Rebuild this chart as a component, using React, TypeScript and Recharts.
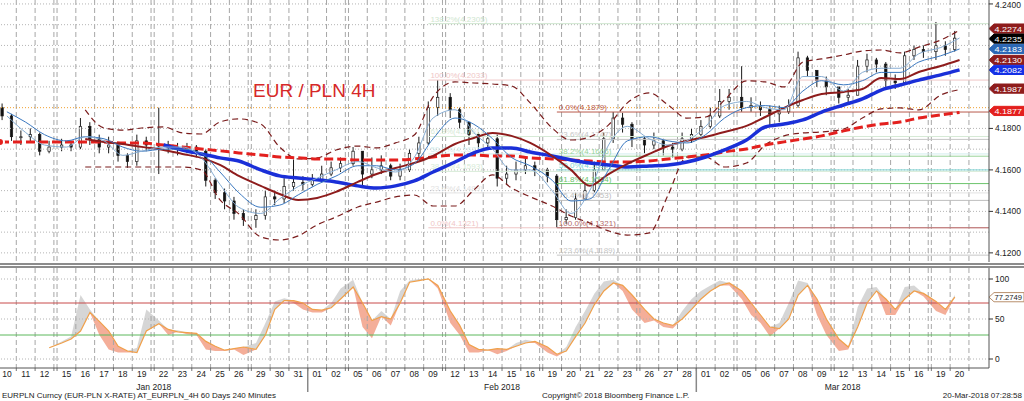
import React from "react";
import { ComposedChart, Line, Area, Bar, XAxis, YAxis, ReferenceLine } from "recharts";

const FONT = '"Liberation Sans", Arial, sans-serif';

// trading days shown on the x axis (MM-DD, 2018)
const DATES = [
  "01-10", "01-11", "01-12", "01-15", "01-16", "01-17", "01-18", "01-19", "01-22", "01-23",
  "01-24", "01-25", "01-26", "01-29", "01-30", "01-31", "02-01", "02-02", "02-05", "02-06",
  "02-07", "02-08", "02-09", "02-12", "02-13", "02-14", "02-15", "02-16", "02-19", "02-20",
  "02-21", "02-22", "02-23", "02-26", "02-27", "02-28", "03-01", "03-02", "03-05", "03-06",
  "03-07", "03-08", "03-09", "03-12", "03-13", "03-14", "03-15", "03-16", "03-19", "03-20",
];
const MONTHS = ["Jan 2018", "Feb 2018", "Mar 2018"];

// candles, two per day (half-day bars), last day has one
const FIRST_OPEN = 4.19;
const CLOSE = [
  4.186, 4.176, 4.176, 4.177, 4.169, 4.171, 4.172, 4.171, 4.181, 4.175,
  4.171, 4.172, 4.167, 4.164, 4.174, 4.172, 4.172, 4.171, 4.17, 4.171,
  4.169, 4.155, 4.149, 4.145, 4.139, 4.136, 4.138, 4.147, 4.146, 4.152,
  4.154, 4.153, 4.155, 4.158, 4.161, 4.163, 4.169, 4.158, 4.16, 4.162,
  4.157, 4.16, 4.168, 4.173, 4.19, 4.195, 4.189, 4.183, 4.177, 4.173,
  4.175, 4.156, 4.158, 4.16, 4.162, 4.16, 4.157, 4.136, 4.137, 4.146,
  4.15, 4.16, 4.175, 4.185, 4.182, 4.175, 4.172, 4.174, 4.171, 4.17,
  4.175, 4.177, 4.181, 4.186, 4.193, 4.195, 4.19, 4.191, 4.189, 4.187,
  4.188, 4.191, 4.214, 4.208, 4.203, 4.2, 4.195, 4.196, 4.21, 4.213,
  4.211, 4.203, 4.202, 4.215, 4.218, 4.217, 4.22, 4.218, 4.2235,
];
const HIGH = [
  4.192, 4.187, 4.179, 4.18, 4.178, 4.174, 4.175, 4.174, 4.185, 4.183,
  4.177, 4.176, 4.172, 4.168, 4.177, 4.176, 4.19, 4.174, 4.173, 4.173,
  4.172, 4.17, 4.156, 4.151, 4.147, 4.141, 4.141, 4.15, 4.15, 4.156,
  4.165, 4.157, 4.158, 4.162, 4.164, 4.166, 4.171, 4.169, 4.166, 4.167,
  4.163, 4.163, 4.17, 4.176, 4.193, 4.2033, 4.197, 4.19, 4.183, 4.178,
  4.178, 4.177, 4.162, 4.164, 4.166, 4.164, 4.161, 4.158, 4.141, 4.149,
  4.154, 4.164, 4.178, 4.1879, 4.1875, 4.183, 4.176, 4.178, 4.175, 4.173,
  4.178, 4.18, 4.184, 4.19, 4.199, 4.199, 4.21, 4.195, 4.193, 4.191,
  4.191, 4.194, 4.217, 4.215, 4.208, 4.205, 4.2, 4.199, 4.213, 4.216,
  4.214, 4.212, 4.206, 4.217, 4.22, 4.22, 4.2313, 4.222, 4.227,
];
const LOW = [
  4.184, 4.174, 4.172, 4.173, 4.167, 4.168, 4.169, 4.169, 4.17, 4.172,
  4.168, 4.168, 4.164, 4.161, 4.162, 4.169, 4.158, 4.168, 4.167, 4.168,
  4.166, 4.152, 4.146, 4.141, 4.136, 4.133, 4.1321, 4.136, 4.143, 4.144,
  4.15, 4.15, 4.152, 4.154, 4.157, 4.159, 4.162, 4.152, 4.156, 4.158,
  4.155, 4.155, 4.159, 4.166, 4.172, 4.186, 4.185, 4.18, 4.172, 4.17,
  4.17, 4.152, 4.153, 4.155, 4.158, 4.157, 4.154, 4.1321, 4.134, 4.136,
  4.145, 4.149, 4.16, 4.173, 4.178, 4.171, 4.168, 4.17, 4.167, 4.166,
  4.169, 4.173, 4.176, 4.18, 4.185, 4.189, 4.188, 4.188, 4.186, 4.181,
  4.183, 4.187, 4.19, 4.205, 4.2, 4.196, 4.192, 4.192, 4.196, 4.207,
  4.207, 4.2, 4.199, 4.201, 4.213, 4.214, 4.213, 4.215, 4.217,
];

// daily studies
const FAST_MA = [
  4.186, 4.178, 4.172, 4.171, 4.176, 4.174, 4.167, 4.169, 4.171, 4.171,
  4.166, 4.153, 4.142, 4.139, 4.146, 4.152, 4.156, 4.16, 4.164, 4.161,
  4.159, 4.166, 4.185, 4.189, 4.178, 4.17, 4.16, 4.16, 4.15, 4.139,
  4.15, 4.172, 4.181, 4.175, 4.172, 4.174, 4.181, 4.191, 4.193, 4.19,
  4.189, 4.205, 4.205, 4.198, 4.207, 4.209, 4.209, 4.216, 4.219, 4.2236,
];
const SLOW_MA = [
  4.188, 4.183, 4.177, 4.174, 4.176, 4.175, 4.171, 4.169, 4.17, 4.17,
  4.168, 4.159, 4.149, 4.142, 4.143, 4.148, 4.153, 4.157, 4.162, 4.162,
  4.16, 4.163, 4.175, 4.185, 4.182, 4.175, 4.166, 4.162, 4.155, 4.145,
  4.146, 4.16, 4.174, 4.176, 4.174, 4.173, 4.177, 4.185, 4.19, 4.191,
  4.19, 4.198, 4.203, 4.201, 4.203, 4.207, 4.207, 4.212, 4.215, 4.2183,
];
const MID_MA = [
  null, null, null, null, 4.1749, 4.1735, 4.1725, 4.1711, 4.1696, 4.1677,
  4.1658, 4.1624, 4.1571, 4.1523, 4.1484, 4.1455, 4.1465, 4.1494, 4.1542, 4.158,
  4.1609, 4.1633, 4.1667, 4.1725, 4.1754, 4.1778, 4.1764, 4.173, 4.1667, 4.16,
  4.1523, 4.158, 4.1629, 4.1677, 4.1715, 4.174, 4.1759, 4.1783, 4.1812, 4.1855,
  4.1899, 4.1937, 4.1966, 4.1976, 4.199, 4.2043, 4.2038, 4.2072, 4.2101, 4.213,
];
const LONG_MA = [
  null, null, null, null, null, null, null, null, 4.172, 4.1696,
  4.1677, 4.1658, 4.1643, 4.16, 4.1571, 4.1561, 4.1552, 4.1542, 4.1523, 4.1513,
  4.1523, 4.1547, 4.159, 4.1638, 4.1682, 4.1706, 4.1706, 4.1686, 4.1667, 4.1648,
  4.1633, 4.1624, 4.1614, 4.1619, 4.1624, 4.1638, 4.1662, 4.1696, 4.1744, 4.1807,
  4.1821, 4.1841, 4.1879, 4.1913, 4.1942, 4.1985, 4.2009, 4.2033, 4.2058, 4.2082,
];
const SLOWEST_MA = [
  4.1735, 4.1735, 4.1735, 4.1735, 4.1735, 4.1735, 4.173, 4.173, 4.172, 4.1711,
  4.1701, 4.1692, 4.1682, 4.1672, 4.1662, 4.1658, 4.1653, 4.1653, 4.1648, 4.1648,
  4.1648, 4.1653, 4.1662, 4.1672, 4.1672, 4.1667, 4.1667, 4.1658, 4.1653, 4.1648,
  4.1643, 4.1638, 4.1638, 4.1643, 4.1653, 4.1662, 4.1672, 4.1687, 4.1701, 4.172,
  4.1735, 4.1749, 4.1764, 4.1788, 4.1807, 4.1821, 4.1831, 4.185, 4.1865, 4.1877,
];
const BAND_UP = [
  null, null, null, null, 4.1889, 4.1802, 4.1792, 4.1802, 4.1807, 4.1778,
  4.1773, 4.1831, 4.1846, 4.1821, 4.1711, 4.1653, 4.1658, 4.1696, 4.1715, 4.1706,
  4.173, 4.1768, 4.1952, 4.2024, 4.2019, 4.2014, 4.2005, 4.1923, 4.1802, 4.1744,
  4.1759, 4.1817, 4.1923, 4.1971, 4.1913, 4.185, 4.1855, 4.1937, 4.2029, 4.2024,
  4.2, 4.212, 4.2135, 4.2154, 4.2173, 4.2178, 4.2164, 4.2192, 4.2226, 4.2274,
];
const BAND_LO = [
  null, null, null, null, 4.1614, 4.1614, 4.1614, 4.1614, 4.1614, 4.1614,
  4.16, 4.1455, 4.1388, 4.1277, 4.1262, 4.1282, 4.1335, 4.1373, 4.1421, 4.1445,
  4.147, 4.1479, 4.1426, 4.1426, 4.1503, 4.1576, 4.1513, 4.147, 4.1426, 4.1378,
  4.1344, 4.1306, 4.1286, 4.1296, 4.1479, 4.1662, 4.1662, 4.1614, 4.1633, 4.172,
  4.1764, 4.1778, 4.1783, 4.1797, 4.185, 4.1894, 4.1899, 4.1889, 4.1961, 4.1987,
];

// stochastic, per candle
const STOCH_D = [
  null, null, null, null, null, 14, 20, 25, 35, 58, 47, 35, 16, 10, 8, 35, 44, 37, 34, 33,
  32, 22, 16, 11, 13, 15, 12, 30, 62, 73, 73, 70, 62, 61, 64, 75, 90, 70, 48, 53,
  50, 70, 96, 98, 100, 92, 60, 42, 18, 12, 11, 13, 12, 16, 20, 22, 15, 6, 10, 28,
  45, 68, 85, 95, 92, 80, 62, 50, 45, 42, 50, 62, 75, 85, 92, 95, 85, 70, 55, 40,
  38, 50, 80, 92, 75, 50, 25, 15, 40, 70, 85, 75, 62, 75, 85, 82, 72, 62, 77.2749,
];
const STOCH_K = [
  null, null, null, null, null, 14, 22, 28, 80, 62, 30, 12, 8, 8, 14, 62, 48, 30, 36, 31,
  30, 12, 10, 10, 12, 5, 20, 45, 72, 76, 70, 62, 58, 58, 70, 88, 99, 40, 26, 60,
  42, 85, 98, 100, 100, 88, 45, 30, 8, 8, 12, 6, 10, 20, 24, 20, 8, 3, 15, 40,
  60, 82, 97, 99, 85, 62, 45, 48, 40, 38, 60, 75, 85, 92, 98, 92, 75, 55, 45, 28,
  45, 70, 98, 95, 55, 30, 10, 12, 65, 88, 90, 55, 55, 90, 92, 78, 60, 55, 80,
];

// fibonacci retracements
const FIB_R_LEVELS = [4.1879, 4.1747, 4.1666, 4.16, 4.1534, 4.1453, 4.1321, 4.1189];
const FIB_R_NAMES = ["0.0%", "23.6%", "38.2%", "50.0%", "61.8%", "76.4%", "100.0%", "123.6%"];
const FIB_R_COLORS = ["#b85a4c", "#c6c6c6", "#9ad49a", "#7fd4d4", "#6cc46c", "#bdbdbd", "#b46a6a", "#c8c8c8"];
const FIB_L_LEVELS = [4.2305, 4.2033, 4.1761, 4.1677, 4.1593, 4.1489, 4.1321];
const FIB_L_NAMES = ["138.2%", "100.0%", "61.8%", "50.0%", "38.2%", "23.6%", "0.0%"];
const FIB_L_COLORS = ["#cfe6cf", "#efc6c6", "#d6ead6", "#d3eded", "#d6ead6", "#e2e2e2", "#efc6c6"];

// last-value flags (small nudge keeps neighbours apart, as on the terminal)
const FLAG_VALUES = [4.2274, 4.2235, 4.2183, 4.213, 4.2082, 4.1987, 4.1877];
const FLAG_COLORS = ["#8e1c1c", "#000000", "#2b67b5", "#8e1c1c", "#1430e6", "#8e1c1c", "#e3201e"];
const FLAG_NUDGE = [-1.5, 0.5, 0, 0, 0, -1, -1.5];

const PRICE_TICKS = [4.12, 4.14, 4.16, 4.18, 4.24];
const PRICE_GRID = [4.12, 4.13, 4.14, 4.15, 4.16, 4.17, 4.18, 4.2, 4.21, 4.22, 4.23, 4.24];
const PRICE_MARK = 4.19;
const X_DOMAIN = [0.8, 316.4];
const Y_DOMAIN = [4.1156, 4.2419];
const STOCH_DOMAIN = [-11.25, 113.75];

// day positions in 4h-bar units, weekend counts as one bar
const dayStart: number[] = [];
DATES.forEach((d, i) => {
  if (i === 0) {
    dayStart.push(0);
    return;
  }
  const [m, dd] = d.split("-").map(Number);
  const monday = new Date(2018, m - 1, dd).getDay() === 1;
  dayStart.push(dayStart[i - 1] + 6 + (monday ? 1 : 0));
});
const dayCenter = dayStart.map((s) => s + 3);
const gridX: number[] = [];
dayStart.forEach((s, i) => {
  gridX.push(s);
  const next = dayStart[i + 1];
  if (next === undefined || next - s > 6) gridX.push(s + 6);
});
const monthStarts = DATES.map((d, i) => (i > 0 && d.slice(0, 2) !== DATES[i - 1].slice(0, 2) ? dayStart[i] : null)).filter(
  (v): v is number => v !== null,
);
const monthEdges = [X_DOMAIN[0], ...monthStarts, X_DOMAIN[1]];
const monthMids = MONTHS.map((_, i) => (monthEdges[i] + monthEdges[i + 1]) / 2);

const candleRows = CLOSE.map((c, i) => {
  const day = Math.floor(i / 2);
  return {
    x: dayStart[day] + (i % 2 ? 4.5 : 1.5),
    hl: [LOW[i], HIGH[i]],
    o: i === 0 ? FIRST_OPEN : CLOSE[i - 1],
    c,
    h: HIGH[i],
    l: LOW[i],
  };
});
const dayRows = DATES.map((_, i) => ({
  x: dayCenter[i],
  fast: FAST_MA[i],
  slow: SLOW_MA[i],
  mid: MID_MA[i],
  long: LONG_MA[i],
  slowest: SLOWEST_MA[i],
  up: BAND_UP[i],
  lo: BAND_LO[i],
}));
// the slowest average runs in from the left edge
const slowestRows = [{ x: X_DOMAIN[0], slowest: SLOWEST_MA[0] }, ...dayRows];
const stochRows = STOCH_D.map((d, i) => {
  const k = STOCH_K[i];
  const ok = d !== null && k !== null;
  return {
    x: candleRows[i].x,
    d,
    hi: ok ? [d, Math.max(d as number, k as number)] : null,
    lo: ok ? [Math.min(d as number, k as number), d] : null,
  };
});
const fibLeftX = dayStart[DATES.indexOf("02-09")] + 1.5;
const fibRightX = dayStart[DATES.indexOf("02-19")] + 4.5;

const Candle = (p: any) => {
  const { x, y, width, height, payload } = p;
  if (!payload || y == null || height == null) return null;
  const top = Math.min(y, y + height);
  const h = Math.abs(height);
  const cx = x + width / 2;
  const span = payload.h - payload.l || 1e-6;
  const yOf = (v: number) => top + ((payload.h - v) / span) * h;
  const bTop = yOf(Math.max(payload.o, payload.c));
  const bBot = yOf(Math.min(payload.o, payload.c));
  const up = payload.c >= payload.o;
  return (
    <g>
      <line x1={cx} x2={cx} y1={top} y2={top + h} stroke="#1a1a1a" strokeWidth={1} />
      <rect
        x={cx - 1.2}
        y={bTop}
        width={2.4}
        height={Math.max(1, bBot - bTop)}
        fill={up ? "#ffffff" : "#111111"}
        stroke="#1a1a1a"
        strokeWidth={0.7}
      />
    </g>
  );
};

const Flag = (p: any) => {
  const vb = p.viewBox;
  if (!vb) return null;
  const x = vb.x + vb.width;
  const y = vb.y + (p.nudge || 0);
  const hh = 4.6;
  return (
    <g>
      <polygon
        points={`${x},${y} ${x + 5},${y - hh} ${x + 35},${y - hh} ${x + 35},${y + hh} ${x + 5},${y + hh}`}
        fill={p.bg}
        stroke={p.border || p.bg}
        strokeWidth={1}
      />
      <text
        x={x + 5.5}
        y={y + 3}
        fontSize={8}
        fill={p.fg || "#fff"}
        fontFamily={FONT}
        textLength={27.5}
        lengthAdjust="spacingAndGlyphs"
      >
        {p.text}
      </text>
    </g>
  );
};

const FibText = (p: any) => {
  const vb = p.viewBox;
  if (!vb) return null;
  return (
    <text x={vb.x + 2} y={vb.y - 2} fontSize={8} fill={p.color} fontFamily={FONT}>
      {p.text}
    </text>
  );
};

const gridShape = (p: any) => {
  const bottom = Math.max(p.y1, p.y2);
  const top = Math.min(p.y1, p.y2);
  return <line x1={p.x1} x2={p.x1} y1={top} y2={bottom} stroke="#a6a6a6" strokeDasharray="5 3" />;
};
const lowerGridShape = (p: any) => {
  const bottom = Math.max(p.y1, p.y2);
  const top = Math.min(p.y1, p.y2);
  return (
    <g>
      <line x1={p.x1} x2={p.x1} y1={top} y2={bottom} stroke="#a6a6a6" strokeDasharray="5 3" />
      <line x1={p.x1} x2={p.x1} y1={bottom} y2={bottom + 3} stroke="#777" />
    </g>
  );
};
const monthSepShape = (p: any) => {
  const bottom = Math.max(p.y1, p.y2);
  return <line x1={p.x1} x2={p.x1} y1={bottom} y2={bottom + 24} stroke="#888" strokeWidth={1.5} />;
};
const monthLabelShape = (text: string) => (p: any) => {
  const bottom = Math.max(p.y1, p.y2);
  return (
    <text x={p.x1} y={bottom + 22} textAnchor="middle" fontSize={8.5} fill="#222" fontFamily={FONT}>
      {text}
    </text>
  );
};

const tickStyle = { fontSize: 8.5, fill: "#222", fontFamily: FONT };

export default function App() {
  const lastStoch = STOCH_D[STOCH_D.length - 1] as number;
  return (
    <div
      style={{
        position: "absolute",
        left: 0,
        top: 0,
        width: 1024,
        height: 401,
        background: "#fff",
        overflow: "hidden",
        fontFamily: FONT,
      }}
    >
      <div style={{ position: "absolute", left: 0, top: 0 }}>
        <ComposedChart width={1024} height={262} data={candleRows} margin={{ top: 0, right: 0, bottom: 0, left: 0 }}>
          <XAxis dataKey="x" type="number" domain={X_DOMAIN} hide allowDataOverflow />
          <YAxis
            orientation="right"
            width={35}
            domain={Y_DOMAIN}
            allowDataOverflow
            ticks={PRICE_TICKS}
            tickFormatter={(v: number) => v.toFixed(4)}
            tick={tickStyle}
            tickSize={4}
            tickMargin={2}
            tickLine={{ stroke: "#333" }}
            axisLine={{ stroke: "#555" }}
          />
          {gridX.map((g) => (
            <ReferenceLine key={`gx${g}`} x={g} shape={gridShape} />
          ))}
          {PRICE_GRID.map((v) => (
            <ReferenceLine key={`gy${v}`} y={v} stroke="#b4b4b4" strokeDasharray="1 2" />
          ))}
          <ReferenceLine y={PRICE_MARK} stroke="#f0a030" strokeDasharray="1 2" />
          {FIB_L_LEVELS.map((v, i) => (
            <ReferenceLine
              key={`fl${v}`}
              segment={[
                { x: fibLeftX, y: v },
                { x: X_DOMAIN[1], y: v },
              ]}
              stroke={FIB_L_COLORS[i]}
              label={<FibText text={`${FIB_L_NAMES[i]}(${v.toFixed(4)})`} color={FIB_L_COLORS[i]} />}
            />
          ))}
          {FIB_R_LEVELS.map((v, i) => (
            <ReferenceLine
              key={`fr${v}`}
              segment={[
                { x: fibRightX, y: v },
                { x: X_DOMAIN[1], y: v },
              ]}
              stroke={FIB_R_COLORS[i]}
              label={<FibText text={`${FIB_R_NAMES[i]}(${v.toFixed(4)})`} color={FIB_R_COLORS[i]} />}
            />
          ))}
          <Line data={dayRows} dataKey="up" type="monotone" stroke="#7a1c1c" strokeWidth={1.2} strokeDasharray="6 4" dot={false} isAnimationActive={false} />
          <Line data={dayRows} dataKey="lo" type="monotone" stroke="#7a1c1c" strokeWidth={1.2} strokeDasharray="6 4" dot={false} isAnimationActive={false} />
          <Line data={slowestRows} dataKey="slowest" type="monotone" stroke="#e3201e" strokeWidth={3} strokeDasharray="9 4" dot={false} isAnimationActive={false} />
          <Line data={dayRows} dataKey="long" type="monotone" stroke="#1a2fd8" strokeWidth={3.5} dot={false} isAnimationActive={false} />
          <Line data={dayRows} dataKey="mid" type="monotone" stroke="#8e1c1c" strokeWidth={2} dot={false} isAnimationActive={false} />
          <Bar dataKey="hl" barSize={3} shape={<Candle />} isAnimationActive={false} />
          <Line data={dayRows} dataKey="slow" type="monotone" stroke="#3a78c0" strokeWidth={1} dot={false} isAnimationActive={false} />
          <Line data={dayRows} dataKey="fast" type="monotone" stroke="#86acd2" strokeWidth={1} dot={false} isAnimationActive={false} />
          {FLAG_VALUES.map((v, i) => (
            <ReferenceLine
              key={`flag${v}`}
              y={v}
              stroke="none"
              ifOverflow="visible"
              label={<Flag text={v.toFixed(4)} bg={FLAG_COLORS[i]} nudge={FLAG_NUDGE[i]} />}
            />
          ))}
        </ComposedChart>
      </div>

      <div
        style={{
          position: "absolute",
          left: 253,
          top: 80,
          fontSize: 19,
          color: "#d62828",
          lineHeight: "21px",
          whiteSpace: "nowrap",
        }}
      >
        EUR / PLN 4H
      </div>

      <div style={{ position: "absolute", left: 0, top: 263, width: 1024, height: 2, background: "#8c8c8c" }} />
      <div style={{ position: "absolute", left: 0, top: 266, width: 1024, height: 2, background: "#8c8c8c" }} />

      <div style={{ position: "absolute", left: 0, top: 268 }}>
        <ComposedChart width={1024} height={128} data={stochRows} margin={{ top: 0, right: 0, bottom: 15, left: 0 }}>
          <XAxis
            dataKey="x"
            type="number"
            domain={X_DOMAIN}
            allowDataOverflow
            ticks={dayCenter}
            interval={0}
            tickFormatter={(v: number) => {
              const i = dayCenter.indexOf(v);
              return i >= 0 ? DATES[i].slice(3) : "";
            }}
            tick={tickStyle}
            tickLine={false}
            tickSize={0}
            tickMargin={3}
            height={13}
            axisLine={{ stroke: "#555" }}
          />
          <YAxis
            orientation="right"
            width={35}
            domain={STOCH_DOMAIN}
            allowDataOverflow
            ticks={[0, 50, 100]}
            tick={tickStyle}
            tickSize={4}
            tickMargin={2}
            tickLine={{ stroke: "#333" }}
            axisLine={{ stroke: "#555" }}
          />
          {gridX.map((g) => (
            <ReferenceLine key={`lgx${g}`} x={g} shape={lowerGridShape} />
          ))}
          {[0, 50, 100].map((v) => (
            <ReferenceLine key={`lgy${v}`} y={v} stroke="#b4b4b4" strokeDasharray="1 2" />
          ))}
          <ReferenceLine y={70} stroke="#c84a4a" strokeWidth={1} />
          <ReferenceLine y={30} stroke="#5cb85c" strokeWidth={1} />
          {monthStarts.map((m) => (
            <ReferenceLine key={`ms${m}`} x={m} shape={monthSepShape} />
          ))}
          {monthMids.map((m, i) => (
            <ReferenceLine key={`mm${m}`} x={m} shape={monthLabelShape(MONTHS[i])} />
          ))}
          <Area dataKey="hi" type="linear" stroke="none" fill="#cfcfcf" fillOpacity={0.85} isAnimationActive={false} />
          <Area dataKey="lo" type="linear" stroke="none" fill="#f3a58e" fillOpacity={0.9} isAnimationActive={false} />
          <Line dataKey="d" type="linear" stroke="#f0a04a" strokeWidth={1.2} dot={false} isAnimationActive={false} />
          <ReferenceLine
            y={lastStoch}
            stroke="none"
            ifOverflow="visible"
            label={<Flag text={lastStoch.toFixed(4)} bg="#ffffff" fg="#222" border="#b8906c" />}
          />
        </ComposedChart>
      </div>

      <div style={{ position: "absolute", left: 2, top: 391, fontSize: 8, color: "#222", whiteSpace: "nowrap", lineHeight: "10px" }}>
        EURPLN Curncy (EUR-PLN X-RATE) AT_EURPLN_4H 60 Days 240 Minutes
      </div>
      <div style={{ position: "absolute", left: 542, top: 391, fontSize: 8, color: "#222", whiteSpace: "nowrap", lineHeight: "10px" }}>
        Copyright© 2018 Bloomberg Finance L.P.
      </div>
      <div style={{ position: "absolute", right: 2, top: 391, fontSize: 8, color: "#222", whiteSpace: "nowrap", lineHeight: "10px" }}>
        20-Mar-2018 07:28:58
      </div>
    </div>
  );
}
